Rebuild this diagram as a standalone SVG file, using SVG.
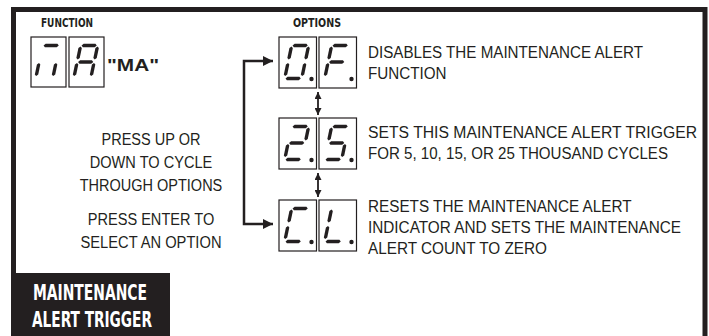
<svg xmlns="http://www.w3.org/2000/svg" xmlns:xlink="http://www.w3.org/1999/xlink" width="709" height="336" viewBox="0 0 709 336">
  <style>
    .frame{fill:none;stroke:#231f20;stroke-width:5}
    .box{fill:#fff;stroke:#231f20;stroke-width:1.2}
    .seg{fill:#231f20}
    .dp{fill:#231f20}
    .txt{font-family:"Liberation Sans",Arial,sans-serif;font-size:16px;fill:#231f20}
    .hdr{font-family:"DejaVu Sans Condensed","DejaVu Sans",sans-serif;font-weight:bold;font-size:13px;fill:#231f20}
    .title{font-family:"DejaVu Sans Condensed","DejaVu Sans",sans-serif;font-weight:bold;font-size:21px;fill:#fff}
    .ma{font-family:"Liberation Sans",Arial,sans-serif;font-weight:bold;font-size:17px;fill:#231f20}
    .conn{fill:none;stroke:#231f20;stroke-width:2.5}
    .dbl{fill:none;stroke:#231f20;stroke-width:1.8}
  </style>
  <defs>
    <polygon id="H" points="2.4,0 4.1,-1.7 15.9,-1.7 17.6,0 15.9,1.7 4.1,1.7"/>
    <polygon id="V" points="0,2.4 1.7,4.1 1.7,13.9 0,15.6 -1.7,13.9 -1.7,4.1"/>
    <g id="sa"><use xlink:href="#H" transform="translate(0,1.5)"/></g>
    <g id="sg"><use xlink:href="#H" transform="translate(0,18)"/></g>
    <g id="sd"><use xlink:href="#H" transform="translate(0,34.5)"/></g>
    <g id="sf"><use xlink:href="#V" transform="translate(1.5,0)"/></g>
    <g id="sb"><use xlink:href="#V" transform="translate(18.5,0)"/></g>
    <g id="se"><use xlink:href="#V" transform="translate(1.5,16.5)"/></g>
    <g id="sc"><use xlink:href="#V" transform="translate(18.5,16.5)"/></g>
    <marker id="arr" markerUnits="userSpaceOnUse" markerWidth="10" markerHeight="10" refX="10" refY="5" orient="auto-start-reverse">
      <path d="M0,0 L10,5 L0,10 z" fill="#231f20"/>
    </marker>
    <marker id="arrs" markerUnits="userSpaceOnUse" markerWidth="7" markerHeight="7" refX="7" refY="3.5" orient="auto-start-reverse">
      <path d="M0,0 L7,3.5 L0,7 z" fill="#231f20"/>
    </marker>
  </defs>

  <rect width="709" height="336" fill="#fff"/>
  <path class="frame" d="M13.5,273 V9.5 H705 V336"/>
  <rect x="11" y="273" width="159" height="63" fill="#231f20"/>
  <text class="title" x="90" y="300" text-anchor="middle" textLength="114" lengthAdjust="spacingAndGlyphs">MAINTENANCE</text>
  <text class="title" x="92" y="327" text-anchor="middle" textLength="120" lengthAdjust="spacingAndGlyphs">ALERT TRIGGER</text>

  <text class="hdr" x="41" y="26.5" textLength="52" lengthAdjust="spacingAndGlyphs">FUNCTION</text>
  <text class="hdr" x="293" y="27" textLength="48" lengthAdjust="spacingAndGlyphs">OPTIONS</text>

  <g id="function-ma">
    <rect class="box" x="31" y="37" width="35" height="50"/>
    <g class="seg" transform="translate(41.5,44) skewX(-12)">
      <use xlink:href="#sa"/><use xlink:href="#se"/><use xlink:href="#sc"/>
    </g>
    <rect class="box" x="69" y="37" width="35" height="50"/>
    <g class="seg" transform="translate(79.5,44) skewX(-12)">
      <use xlink:href="#sa"/><use xlink:href="#sb"/><use xlink:href="#sc"/><use xlink:href="#se"/><use xlink:href="#sf"/><use xlink:href="#sg"/>
    </g>
    <text class="ma" x="107" y="70.5" textLength="52" lengthAdjust="spacingAndGlyphs">"MA"</text>
  </g>

  <g id="option-of">
    <rect class="box" x="279" y="37" width="37.5" height="51"/>
    <g class="seg" transform="translate(290.5,44) skewX(-12)">
      <use xlink:href="#sa"/><use xlink:href="#sb"/><use xlink:href="#sc"/><use xlink:href="#sd"/><use xlink:href="#se"/><use xlink:href="#sf"/>
    </g>
    <circle class="dp" cx="311.5" cy="79" r="2.2"/>
    <rect class="box" x="319" y="37" width="37.5" height="51"/>
    <g class="seg" transform="translate(330.5,44) skewX(-12)">
      <use xlink:href="#sa"/><use xlink:href="#se"/><use xlink:href="#sf"/><use xlink:href="#sg"/>
    </g>
    <circle class="dp" cx="351.5" cy="79" r="2.2"/>
    <text class="txt" x="368" y="57.5" textLength="275" lengthAdjust="spacingAndGlyphs">DISABLES THE MAINTENANCE ALERT</text>
    <text class="txt" x="368" y="78.5" textLength="78.5" lengthAdjust="spacingAndGlyphs">FUNCTION</text>
  </g>

  <g id="option-25">
    <rect class="box" x="279" y="118" width="37.5" height="51"/>
    <g class="seg" transform="translate(290.5,125) skewX(-12)">
      <use xlink:href="#sa"/><use xlink:href="#sb"/><use xlink:href="#sg"/><use xlink:href="#se"/><use xlink:href="#sd"/>
    </g>
    <circle class="dp" cx="311.5" cy="160" r="2.2"/>
    <rect class="box" x="319" y="118" width="37.5" height="51"/>
    <g class="seg" transform="translate(330.5,125) skewX(-12)">
      <use xlink:href="#sa"/><use xlink:href="#sf"/><use xlink:href="#sg"/><use xlink:href="#sc"/><use xlink:href="#sd"/>
    </g>
    <circle class="dp" cx="351.5" cy="160" r="2.2"/>
    <text class="txt" x="368" y="137.5" textLength="329" lengthAdjust="spacingAndGlyphs">SETS THIS MAINTENANCE ALERT TRIGGER</text>
    <text class="txt" x="368" y="158.5" textLength="300" lengthAdjust="spacingAndGlyphs">FOR 5, 10, 15, OR 25 THOUSAND CYCLES</text>
  </g>

  <g id="option-cl">
    <rect class="box" x="279" y="200" width="37.5" height="51"/>
    <g class="seg" transform="translate(290.5,207) skewX(-12)">
      <use xlink:href="#sa"/><use xlink:href="#sf"/><use xlink:href="#se"/><use xlink:href="#sd"/>
    </g>
    <circle class="dp" cx="311.5" cy="242" r="2.2"/>
    <rect class="box" x="319" y="200" width="37.5" height="51"/>
    <g class="seg" transform="translate(330.5,207) skewX(-12)">
      <use xlink:href="#sf"/><use xlink:href="#se"/><use xlink:href="#sd"/>
    </g>
    <circle class="dp" cx="351.5" cy="242" r="2.2"/>
    <text class="txt" x="368" y="211.5" textLength="263.5" lengthAdjust="spacingAndGlyphs">RESETS THE MAINTENANCE ALERT</text>
    <text class="txt" x="368" y="232.5" textLength="313" lengthAdjust="spacingAndGlyphs">INDICATOR AND SETS THE MAINTENANCE</text>
    <text class="txt" x="368" y="253.5" textLength="179" lengthAdjust="spacingAndGlyphs">ALERT COUNT TO ZERO</text>
  </g>

  <g id="instructions">
    <text class="txt" x="151" y="144.5" text-anchor="middle" textLength="99" lengthAdjust="spacingAndGlyphs">PRESS UP OR</text>
    <text class="txt" x="151" y="167.5" text-anchor="middle" textLength="122.5" lengthAdjust="spacingAndGlyphs">DOWN TO CYCLE</text>
    <text class="txt" x="151" y="190.5" text-anchor="middle" textLength="142.6" lengthAdjust="spacingAndGlyphs">THROUGH OPTIONS</text>
    <text class="txt" x="151" y="224.5" text-anchor="middle" textLength="126.5" lengthAdjust="spacingAndGlyphs">PRESS ENTER TO</text>
    <text class="txt" x="151" y="247.5" text-anchor="middle" textLength="141" lengthAdjust="spacingAndGlyphs">SELECT AN OPTION</text>
  </g>

  <g id="connectors">
    <path class="conn" d="M273,61 H244 V224 H273" marker-start="url(#arr)" marker-end="url(#arr)"/>
    <path class="dbl" d="M318,92 V115" marker-start="url(#arrs)" marker-end="url(#arrs)"/>
    <path class="dbl" d="M318,173 V197" marker-start="url(#arrs)" marker-end="url(#arrs)"/>
  </g>
</svg>
